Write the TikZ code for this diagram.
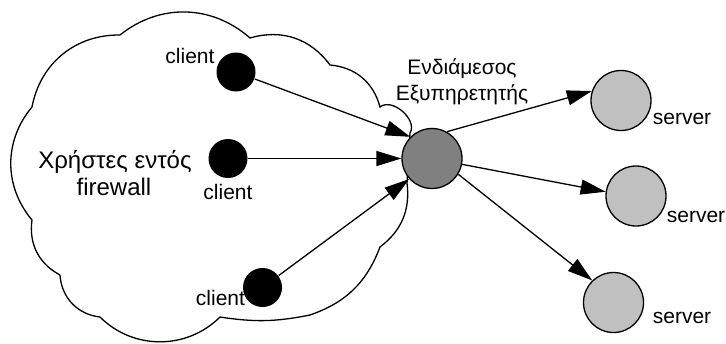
\documentclass[tikz,border=0pt]{standalone}
\usepackage{fontspec}
\setmainfont{Liberation Sans}
\usetikzlibrary{arrows.meta}
\definecolor{proxygray}{RGB}{128,128,128}
\definecolor{srvgray}{RGB}{192,192,192}

\begin{document}
\begin{tikzpicture}[x=1pt, y=-1pt, line width=1.3pt,
 client/.style={circle, fill=black, inner sep=0pt, minimum size=39pt},
 server/.style={circle, draw, fill=srvgray, inner sep=0pt, minimum size=60pt},
 lbl/.style={anchor=base, inner sep=0pt, font=\fontsize{21}{24}\selectfont},
 flow/.style={-{Triangle[length=25pt, width=15pt]}}]
 \useasboundingbox (0,0) rectangle (726,343);
 % firewall cloud
 \draw[fill=white]
 (32,107) to[bend left=40] (120,35) to[bend left=40] (250,38)
 to[bend left=35] (330,65) to[bend left=35] (380,107)
 to[bend left=80] (410,133) -- (407,183)
 to[bend left=30] (380,247) to[bend left=25] (310,315)
 to[bend left=10] (220,317) to[bend left=45] (100,317)
 to[bend left=40] (60,275) to[bend left=35] (32,220)
 to[bend left=40] (32,107);
 \node[lbl, font=\fontsize{24}{28}\selectfont] (users) at (115,168) {Χρήστες εντός};
 \node[lbl, font=\fontsize{24}{28}\selectfont] (users2) at (114,195) {firewall};

 \node[client] (c1) at (236,72) {};
 \node[client] (c2) at (228,158.5) {};
 \node[client] (c3) at (262.5,287.5) {};
 \node[lbl] (c1lbl) at (190,63) {client};
 \node[lbl] (c2lbl) at (228,199) {client};
 \node[lbl] (c3lbl) at (220.5,305) {client};

 \node[circle, draw, fill=proxygray, inner sep=0pt, minimum size=60pt] (proxy) at (432,158.5) {};
 \node[lbl] (proxylbl) at (462,74) {Ενδιάμεσος};
 \node[lbl] (proxylbl2) at (462,100) {Εξυπηρετητής};

 \node[server] (s1) at (621,100.5) {};
 \node[server] (s2) at (636,196) {};
 \node[server] (s3) at (613.5,302.5) {};
 \node[lbl] (s1lbl) at (682,124) {server};
 \node[lbl] (s2lbl) at (696,222) {server};
 \node[lbl] (s3lbl) at (682,323) {server};

 \draw[flow] (c1) -- (proxy.135);
 \draw[flow] (c2) -- (proxy);
 \draw[flow] (c3) -- (proxy.222);
 \draw[flow] (proxy.61) -- (s1.162);
 \draw[flow] (proxy.349) -- (s2.172);
 \draw[flow] (proxy.329) -- (s3.134);
\end{tikzpicture}
\end{document}
